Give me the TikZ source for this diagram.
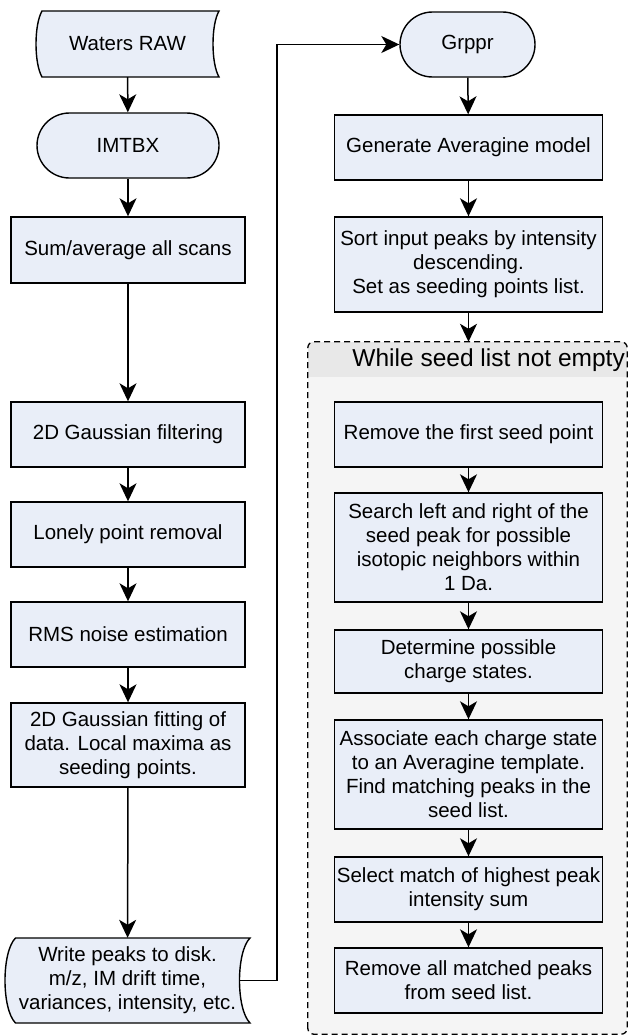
\documentclass[tikz,border=0pt]{standalone}
\usepackage{fontspec}
\setmainfont{Liberation Sans}
\usetikzlibrary{arrows.meta,calc}
\definecolor{boxblue}{RGB}{233,238,248}
\definecolor{loopgray}{RGB}{245,245,245}
\definecolor{bandgray}{RGB}{232,232,232}
% stored data outline: centre x, centre y, half width, half height, bow
\newcommand{\storeShape}[5]{%
  \draw[line width=1.4pt, fill=boxblue, shift={(#1,#2)}]
    (-#3+#5,-#4) -- (#3,-#4)
    .. controls (#3-4*#5/3,-#4+14) and (#3-4*#5/3,#4-14) .. (#3,#4)
    -- (-#3+#5,#4)
    .. controls (-#3-#5/3,#4-14) and (-#3-#5/3,-#4+14) .. (-#3+#5,-#4) -- cycle;}

\begin{document}
\begin{tikzpicture}[x=1pt,y=-1pt,
    every node/.style={font=\fontsize{20.5}{24}\selectfont, align=center, inner sep=0pt},
    procL/.style={draw, line width=1.4pt, fill=boxblue, minimum width=234pt},
    procR/.style={draw, line width=1.4pt, fill=boxblue, minimum width=268pt},
    term/.style={draw, line width=1.4pt, fill=boxblue, rounded corners=32.5pt, minimum height=65pt},
    flow/.style={line width=1.5pt, -{Stealth[length=18pt,width=17pt,inset=5pt]}}]
  \useasboundingbox (0,0) rectangle (628,1036);

  % left column
  \storeShape{127.5}{44}{91.5}{33}{6}
  \node[minimum width=183pt, minimum height=66pt] (raw) at (127.5,44) {Waters RAW};
  \node[term, minimum width=182pt] (imtbx) at (128,145.5) {IMTBX};
  \node[procL, minimum height=66pt] (sum) at (128,250) {Sum/average all scans};
  \node[procL, minimum height=65pt] (filt) at (128,434.5) {2D Gaussian filtering};
  \node[procL, minimum height=65pt] (lonely) at (128,534.5) {Lonely point removal};
  \node[procL, minimum height=65pt] (rms) at (128,634.5) {RMS noise estimation};
  \node[procL, minimum height=84pt] (fit) at (128,745) {2D Gaussian fitting of\\data. Local maxima as\\seeding points.};
  \storeShape{127.5}{980.5}{122.5}{42.5}{10.5}
  \node[minimum width=245pt, minimum height=85pt] (wp) at (127.5,980.5) {Write peaks to disk.\\m/z, IM drift time,\\variances, intensity, etc.};

  % loop container
  \node[fill=loopgray, rounded corners=6pt, minimum width=319pt, minimum height=692pt] (loop) at (467.5,688) {};
  \begin{scope}
    \clip[rounded corners=6pt] (loop.south west) rectangle (loop.north east);
    \fill[bandgray] (loop.north west) rectangle ($(loop.north east)+(0,35)$);
  \end{scope}
  \draw[line width=1.3pt, dashed, dash pattern=on 6pt off 4pt, rounded corners=6pt] (loop.south west) rectangle (loop.north east);
  \node[anchor=east, font=\fontsize{24.5}{28}\selectfont] (while) at (625,360) {While seed list not empty};

  % right column
  \node[term, minimum width=135pt] (grppr) at (467.5,44.5) {Grppr};
  \node[procR, minimum height=65pt] (avg) at (468.5,147.5) {Generate Averagine model};
  \node[procR, minimum height=95pt] (sort) at (468.5,264.5) {Sort input peaks by intensity\\descending.\\Set as seeding points list.};
  \node[procR, minimum height=65pt] (first) at (468.5,434.5) {Remove the first seed point};
  \node[procR, minimum height=109pt] (search) at (468.5,547.5) {Search left and right of the\\seed peak for possible\\isotopic neighbors within\\1 Da.};
  \node[procR, minimum height=63pt] (charge) at (468.5,661.5) {Determine possible\\charge states.};
  \node[procR, minimum height=109pt] (assoc) at (468.5,774.5) {Associate each charge state\\to an Averagine template.\\Find matching peaks in the\\seed list.};
  \node[procR, minimum height=65pt] (select) at (468.5,889.5) {Select match of highest peak\\intensity sum};
  \node[procR, minimum height=65pt] (rmall) at (468.5,980.5) {Remove all matched peaks\\from seed list.};

  % connectors
  \draw[flow] (raw) -- (imtbx);
  \draw[flow] (imtbx) -- (sum);
  \draw[flow] (sum) -- (filt);
  \draw[flow] (filt) -- (lonely);
  \draw[flow] (lonely) -- (rms);
  \draw[flow] (rms) -- (fit);
  \draw[flow] (fit) -- (wp);
  \coordinate (wpout) at ([xshift=-10pt]wp.east);
  \coordinate (bend) at (277,44.5);
  \draw[flow] (wpout) -| (bend) -- (grppr);
  \draw[flow] (grppr) -- (avg);
  \draw[flow] (avg) -- (sort);
  \draw[flow] (sort) -- (sort |- loop.north);
  \draw[flow] (first) -- (search);
  \draw[flow] (search) -- (charge);
  \draw[flow] (charge) -- (assoc);
  \draw[flow] (assoc) -- (select);
  \draw[flow] (select) -- (rmall);
\end{tikzpicture}
\end{document}
